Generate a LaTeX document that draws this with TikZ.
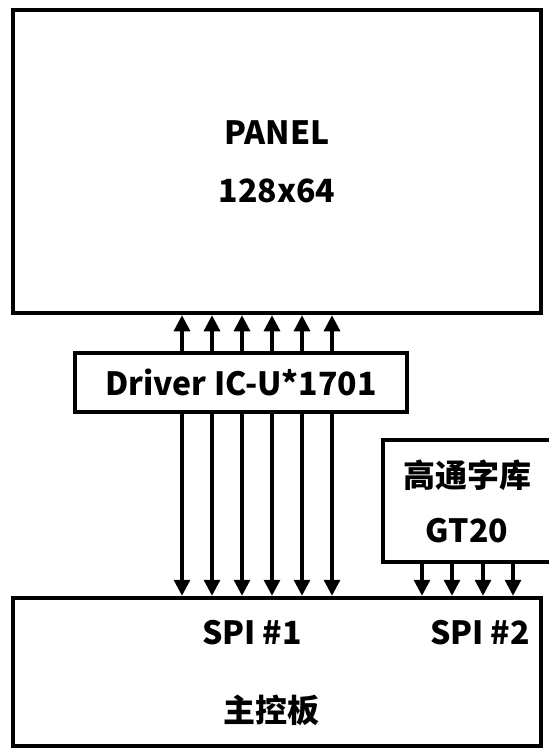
\documentclass[tikz,border=0pt]{standalone}
\usepackage{fontspec}
\setmainfont{Noto Sans CJK SC}
\usetikzlibrary{arrows.meta, positioning}

\begin{document}
\begin{tikzpicture}[
    x=1pt, y=-1pt,
    font=\bfseries\fontsize{32}{38}\selectfont,
    box/.style={draw=black, line width=4.5pt, align=center, inner sep=0pt},
    arrow/.style={-{Triangle[length=16pt, width=16pt]}, line width=3.2pt}
  ]
    \useasboundingbox (0,0) rectangle (549,750);
    \clip (0,0) rectangle (549,750);

    \node[box, minimum width=528pt, minimum height=303pt,
          font=\bfseries\fontsize{32}{58}\selectfont] (panel) at (277,161.5) {PANEL\\128x64};
    \node[box, minimum width=332pt, minimum height=59pt] (driver) at (241,382.5) {Driver IC-U*1701};
    \node[box, minimum width=168pt, minimum height=122pt,
          font=\bfseries\fontsize{32}{55}\selectfont] (gt) at (467,501) {高通字库\\GT20};
    \node[box, minimum width=528pt, minimum height=148pt] (mcu) at (277,672) {};

    \node (spia) at (252,633) {SPI \#1};
    \node (spib) at (480,633) {SPI \#2};
    \node (mcuname) at (271,710) {主控板};

    \foreach \x in {182,212,242,272,302,332}{
      \draw[arrow] (driver.north -| \x,0) -- (panel.south -| \x,0);
      \draw[arrow] (driver.south -| \x,0) -- (mcu.north -| \x,0);
    }
    \foreach \x in {422,452,483,513}
      \draw[arrow] (gt.south -| \x,0) -- (mcu.north -| \x,0);
  \end{tikzpicture}
\end{document}
